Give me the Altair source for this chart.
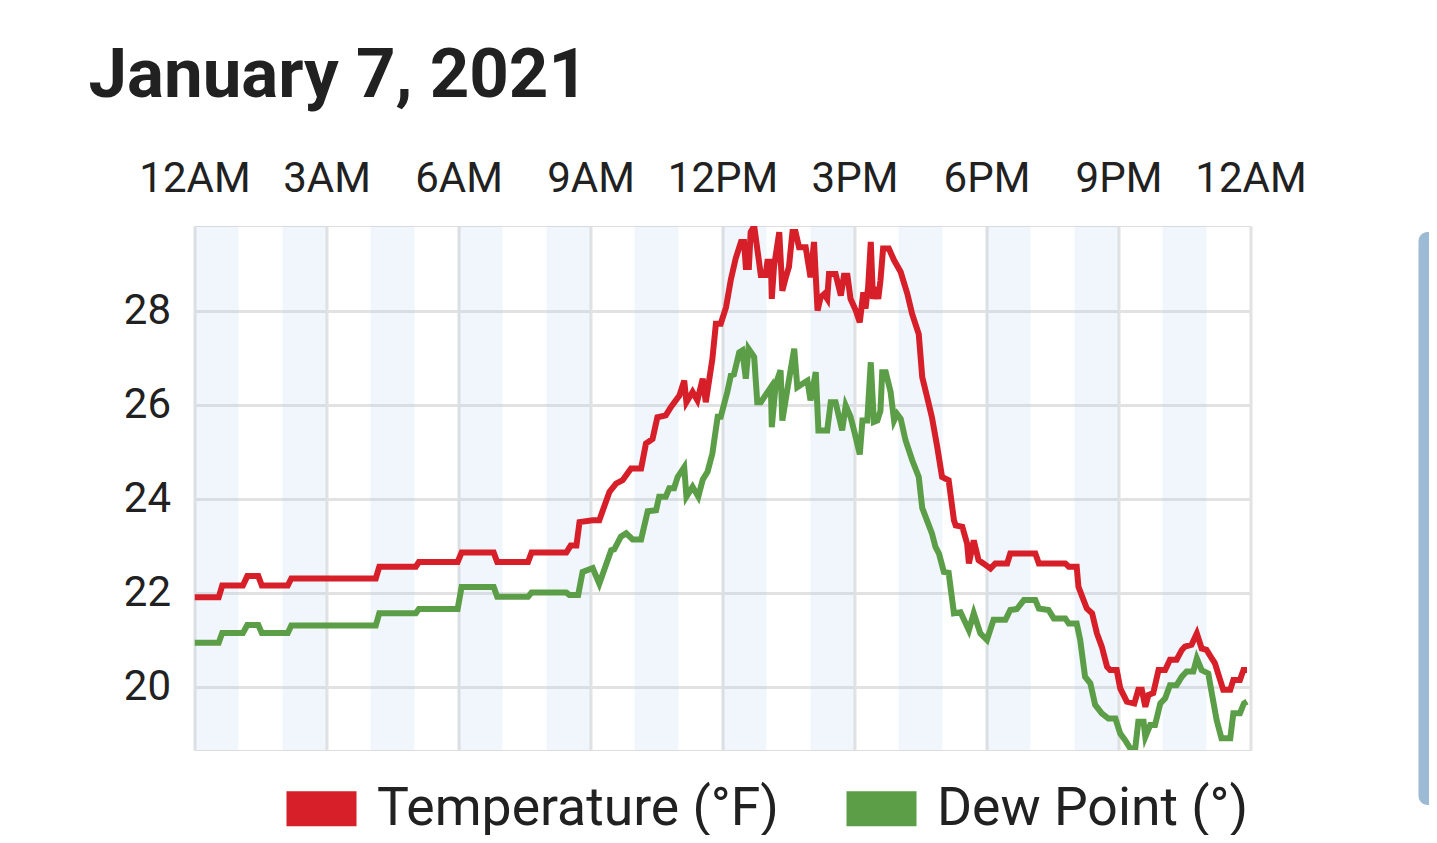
import pandas as pd
import altair as alt

# Readings taken off the chart: hour of day (0-24) and value
temp_hours = [0.0, 0.55, 0.63, 1.1, 1.2, 1.45, 1.53, 2.12, 2.2, 4.12, 4.2, 5.03, 5.1, 5.98,
              6.07, 6.8, 6.88, 7.58, 7.66, 8.45, 8.55, 8.68, 8.75, 9.05, 9.2, 9.43, 9.58, 9.73,
              9.92, 10.15, 10.26, 10.41, 10.52, 10.71, 10.83, 11.02, 11.13, 11.18, 11.32, 11.43,
              11.55, 11.62, 11.77, 11.85, 11.96, 12.08, 12.19, 12.3, 12.42, 12.49, 12.53, 12.6,
              12.64, 12.72, 12.83, 12.87, 12.98, 13.02, 13.1, 13.12, 13.17, 13.29, 13.36, 13.44,
              13.51, 13.59, 13.66, 13.74, 13.89, 14.0, 14.08, 14.16, 14.23, 14.31, 14.38, 14.42,
              14.57, 14.69, 14.76, 14.84, 14.91, 15.03, 15.12, 15.2, 15.25, 15.31, 15.37, 15.42,
              15.48, 15.54, 15.59, 15.65, 15.78, 15.9, 16.05, 16.2, 16.31, 16.46, 16.54, 16.65,
              16.76, 16.88, 16.99, 17.14, 17.26, 17.3, 17.45, 17.56, 17.6, 17.71, 17.82, 17.93,
              18.09, 18.2, 18.47, 18.54, 19.11, 19.19, 19.79, 19.87, 20.05, 20.09, 20.28, 20.4,
              20.51, 20.62, 20.74, 20.81, 20.96, 21.04, 21.19, 21.36, 21.45, 21.53, 21.61, 21.68,
              21.79, 21.91, 22.06, 22.17, 22.32, 22.44, 22.51, 22.66, 22.78, 22.89, 23.0, 23.12,
              23.19, 23.31, 23.38, 23.54, 23.61, 23.76, 23.84, 23.92]
temp_values = [21.9, 21.9, 22.15, 22.15, 22.35, 22.35, 22.15, 22.15, 22.3, 22.3, 22.55, 22.55,
               22.65, 22.65, 22.85, 22.85, 22.65, 22.65, 22.85, 22.85, 23.0, 23.0, 23.5, 23.54,
               23.54, 24.14, 24.32, 24.39, 24.64, 24.64, 25.17, 25.27, 25.73, 25.77, 25.95, 26.19,
               26.51, 26.05, 26.27, 26.09, 26.55, 26.05, 26.97, 27.72, 27.72, 28.07, 28.66, 29.11,
               29.46, 29.46, 28.93, 28.93, 29.67, 29.8, 29.04, 28.76, 28.76, 29.04, 29.04, 28.25,
               28.93, 29.67, 28.42, 28.71, 28.93, 29.67, 29.67, 29.35, 29.35, 28.71, 29.46, 28.0,
               28.28, 28.35, 28.25, 28.78, 28.78, 28.32, 28.74, 28.74, 28.25, 28.0, 27.75, 28.39,
               28.04, 28.5, 29.46, 28.25, 28.5, 28.25, 28.64, 29.32, 29.32, 29.07, 28.82, 28.36,
               27.93, 27.5, 26.58, 26.16, 25.73, 25.1, 24.46, 24.39, 23.54, 23.43, 23.4, 23.04,
               22.62, 23.11, 22.69, 22.62, 22.51, 22.62, 22.62, 22.83, 22.83, 22.62, 22.62, 22.55,
               22.55, 22.12, 21.66, 21.56, 21.13, 20.85, 20.42, 20.35, 20.35, 19.96, 19.68, 19.64,
               19.93, 19.93, 19.57, 19.82, 19.86, 20.35, 20.35, 20.57, 20.57, 20.78, 20.85, 20.89,
               21.13, 20.81, 20.78, 20.6, 20.5, 20.14, 19.93, 19.93, 20.14, 20.14, 20.35, 20.35]

dew_hours = [0.0, 0.55, 0.63, 1.1, 1.2, 1.45, 1.53, 2.12, 2.2, 4.12, 4.2, 5.03, 5.1, 5.98,
             6.07, 6.8, 6.88, 7.58, 7.66, 8.45, 8.52, 8.72, 8.82, 9.05, 9.2, 9.47, 9.54, 9.69,
             9.81, 9.96, 10.15, 10.3, 10.49, 10.56, 10.71, 10.79, 10.9, 10.98, 11.13, 11.18,
             11.32, 11.45, 11.55, 11.66, 11.77, 11.89, 11.96, 12.11, 12.19, 12.26, 12.38, 12.45,
             12.53, 12.59, 12.72, 12.79, 12.87, 13.1, 13.12, 13.21, 13.32, 13.36, 13.47, 13.63,
             13.7, 13.81, 13.93, 14.0, 14.12, 14.18, 14.38, 14.46, 14.57, 14.72, 14.8, 14.91,
             14.99, 15.12, 15.18, 15.29, 15.37, 15.44, 15.52, 15.59, 15.63, 15.71, 15.82, 15.9,
             15.97, 16.05, 16.16, 16.31, 16.46, 16.54, 16.69, 16.76, 16.84, 16.92, 17.03, 17.14,
             17.26, 17.41, 17.6, 17.71, 17.86, 18.01, 18.16, 18.43, 18.54, 18.69, 18.85, 19.11,
             19.19, 19.41, 19.53, 19.79, 19.87, 20.05, 20.13, 20.24, 20.36, 20.47, 20.62, 20.77,
             20.93, 21.04, 21.15, 21.27, 21.38, 21.45, 21.57, 21.61, 21.72, 21.83, 21.95, 22.06,
             22.17, 22.32, 22.44, 22.55, 22.7, 22.78, 22.89, 23.04, 23.12, 23.23, 23.34, 23.54,
             23.61, 23.76, 23.85, 23.92]
dew_values = [20.93, 20.93, 21.14, 21.14, 21.31, 21.31, 21.14, 21.14, 21.3, 21.3, 21.56, 21.56,
              21.65, 21.65, 22.12, 22.12, 21.91, 21.91, 22.0, 22.0, 21.95, 21.95, 22.44, 22.52,
              22.19, 22.9, 22.92, 23.19, 23.26, 23.13, 23.13, 23.73, 23.75, 24.04, 24.04, 24.22,
              24.22, 24.46, 24.67, 24.04, 24.25, 24.04, 24.4, 24.57, 24.96, 25.74, 25.74, 26.27,
              26.62, 26.64, 27.11, 27.15, 26.55, 27.19, 27.01, 26.05, 26.05, 26.37, 25.52, 26.44,
              26.73, 25.66, 26.3, 27.19, 26.37, 26.44, 26.51, 26.09, 26.69, 25.45, 25.45, 26.05,
              26.05, 25.45, 25.98, 25.74, 25.45, 24.94, 25.66, 25.66, 26.9, 25.63, 25.66, 25.87,
              26.69, 26.69, 26.27, 25.66, 25.8, 25.7, 25.24, 24.82, 24.46, 23.8, 23.43, 23.26,
              22.97, 22.83, 22.44, 22.42, 21.56, 21.58, 21.2, 21.56, 21.13, 20.99, 21.42, 21.42,
              21.63, 21.65, 21.84, 21.84, 21.66, 21.63, 21.45, 21.45, 21.34, 21.34, 20.99, 20.21,
              20.07, 19.61, 19.43, 19.32, 19.32, 19.0, 18.86, 18.68, 18.68, 19.25, 19.25, 18.93,
              19.18, 19.18, 19.64, 19.75, 20.03, 20.03, 20.21, 20.32, 20.32, 20.6, 20.35, 20.28,
              19.86, 19.29, 18.9, 18.9, 19.43, 19.43, 19.64, 19.68]

series_names = ['Temperature (°F)', 'Dew Point (°)']
series_colors = ['#d61f29', '#5b9e47']

band_starts = [0, 2, 4, 6, 8, 10, 12, 14, 16, 18, 20, 22]
hour_ticks = [0, 3, 6, 9, 12, 15, 18, 21, 24]
temp_ticks = [20, 22, 24, 26, 28]

FONT = 'Roboto'
TEXT = '#212121'
GRID = '#e2e2e2'

lines_df = pd.concat([
    pd.DataFrame({'hour': temp_hours, 'value': temp_values, 'series': series_names[0]}),
    pd.DataFrame({'hour': dew_hours, 'value': dew_values, 'series': series_names[1]}),
])
bands_df = pd.DataFrame({'start': band_starts, 'end': [b + 1 for b in band_starts]})

x_scale = alt.Scale(domain=[0, 24], nice=False, zero=False)
y_scale = alt.Scale(domain=[18.65, 29.8], nice=False, zero=False)

hour_label = ("datum.value % 24 == 0 ? '12AM' : datum.value < 12 ? datum.value + 'AM' : "
              "datum.value == 12 ? '12PM' : (datum.value - 12) + 'PM'")

bands = alt.Chart(bands_df).mark_rect(color='#b3d0ea', opacity=0.2).encode(
    x=alt.X('start:Q', scale=x_scale,
            axis=alt.Axis(orient='top', values=hour_ticks, labelExpr=hour_label, title=None,
                          ticks=False, domain=False, labelOverlap=False, labelFlush=False,
                          labelFont=FONT, labelFontSize=42, labelColor=TEXT,
                          labelPadding=35, labelBaseline='alphabetic',
                          gridColor=GRID, gridWidth=3)),
    x2='end:Q',
)

# legend swatch: a thick horizontal stroke, 70 px long and 35 px tall
lines = alt.Chart(lines_df).mark_line(strokeWidth=6, strokeJoin='miter', clip=True).encode(
    x=alt.X('hour:Q', scale=x_scale),
    y=alt.Y('value:Q', scale=y_scale,
            axis=alt.Axis(values=temp_ticks, title=None, ticks=False, domain=False,
                          labelFont=FONT, labelFontSize=42, labelColor=TEXT, labelPadding=24,
                          gridColor=GRID, gridWidth=3)),
    color=alt.Color('series:N', sort=series_names,
                    scale=alt.Scale(domain=series_names, range=series_colors),
                    legend=alt.Legend(
                        title=None, orient='none', direction='horizontal',
                        legendX=74.5, legendY=530,
                        symbolType='M-1,0H1', symbolSize=4900,
                        symbolStrokeWidth=35, labelFont=FONT, labelFontSize=53.5,
                        labelColor=TEXT, labelOffset=3, columnPadding=-3,
                        labelLimit=600)),
    order='hour:Q',
)

side_bar = alt.Chart(pd.DataFrame({'k': [0]})).mark_rect(
    color='#9dbad4', cornerRadius=9, clip=False
).encode(x=alt.value(1224), x2=alt.value(1250), y=alt.value(6), y2=alt.value(579))

chart = alt.layer(bands, lines, side_bar).properties(
    width=1056, height=524,
    autosize=alt.AutoSizeParams(type='none'),
    padding={'left': 186.5, 'top': 218, 'right': 178.5, 'bottom': 85},
    title=alt.TitleParams('January 7, 2021', font=FONT, fontSize=69, fontWeight='bold',
                          color=TEXT, anchor='start', frame='group', dx=-106, offset=46),
).configure_view(
    stroke=GRID, strokeWidth=3
).configure(background='white')

chart.save("out.html", embed_options={"renderer": "svg", "actions": False})
